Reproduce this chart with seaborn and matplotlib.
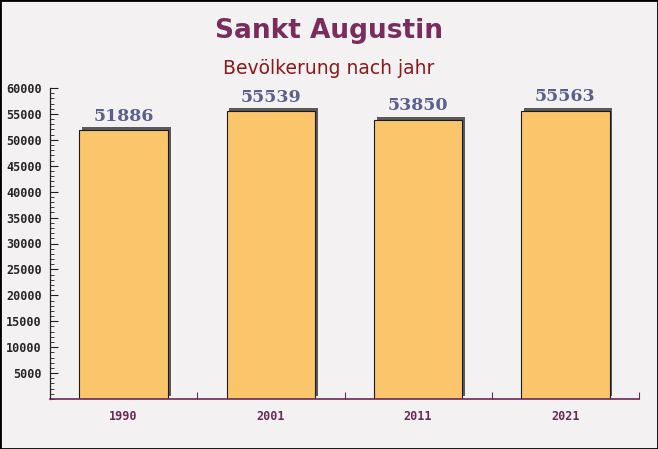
import numpy as np
import pandas as pd
import matplotlib
matplotlib.use("Agg")
import matplotlib.pyplot as plt
import matplotlib.patheffects as pe
from matplotlib.ticker import MultipleLocator
import seaborn as sns

# data
years = ["1990", "2001", "2011", "2021"]
population = [51886, 55539, 53850, 55563]

title = "Sankt Augustin"
subtitle = "Bevölkerung nach jahr"

df = pd.DataFrame({"year": years, "population": population})

sns.set_style("white")

fig = plt.figure(figsize=(6.58, 4.49), dpi=100)
fig.patch.set_facecolor("#f4f1f3")
ax = fig.add_axes([50/658, 1 - 399/449, 589/658, 311/449])
ax.set_facecolor("none")

sns.barplot(data=df, x="year", y="population", color="#fbc66b",
            width=0.6, saturation=1, edgecolor="#1a1a1a", linewidth=0.8, ax=ax)

for bar in ax.patches:
    bar.set_path_effects([pe.SimplePatchShadow(offset=(2, 2), shadow_rgbFace="#5a5a5a", alpha=1),
                          pe.Normal()])

ax.bar_label(ax.containers[0], labels=[str(v) for v in population], padding=4,
             fontsize=12.5, fontweight="bold", family="DejaVu Serif", color="#5a5f8c")

ax.set_xlim(-0.5, len(years) - 0.5)
ax.set_ylim(0, 60000)
ax.yaxis.set_major_locator(MultipleLocator(5000))
ax.yaxis.set_minor_locator(MultipleLocator(1000))
ax.set_yticks(np.arange(5000, 60001, 5000))
ax.set_xticks(np.arange(len(years)))
ax.set_xticks(np.arange(len(years)) + 0.5, minor=True)

ax.tick_params(axis="y", which="major", direction="in", length=6, width=0.8, color="#222222",
               labelsize=8.5, pad=6)
ax.tick_params(axis="y", which="minor", direction="in", length=3, width=0.6, color="#222222")
ax.tick_params(axis="x", which="major", length=0, labelsize=8.5, labelcolor="#6b2a55", pad=8)
ax.tick_params(axis="x", which="minor", direction="in", length=5, width=0.8, color="#6b2a55")
ax.tick_params(left=True, bottom=True, which="both")

for lab in ax.get_yticklabels() + ax.get_xticklabels():
    lab.set_family("DejaVu Sans Mono")
    lab.set_fontweight("bold")

ax.set_xlabel("")
ax.set_ylabel("")
for side in ["top", "right"]:
    ax.spines[side].set_visible(False)
ax.spines["left"].set_color("#222222")
ax.spines["left"].set_linewidth(0.9)
ax.spines["bottom"].set_color("#6b2a55")
ax.spines["bottom"].set_linewidth(1.2)

fig.text(0.5, 1 - 31/449, title, ha="center", va="center", fontsize=19,
         fontweight="bold", color="#7a2d5c")
fig.text(0.5, 1 - 68/449, subtitle, ha="center", va="center", fontsize=13.5,
         color="#8b1a1a")

# frame
fig.add_artist(plt.Rectangle((0, 0), 1, 1, transform=fig.transFigure, fill=False,
                             edgecolor="black", linewidth=2))

fig.savefig("out.png", dpi=100)
